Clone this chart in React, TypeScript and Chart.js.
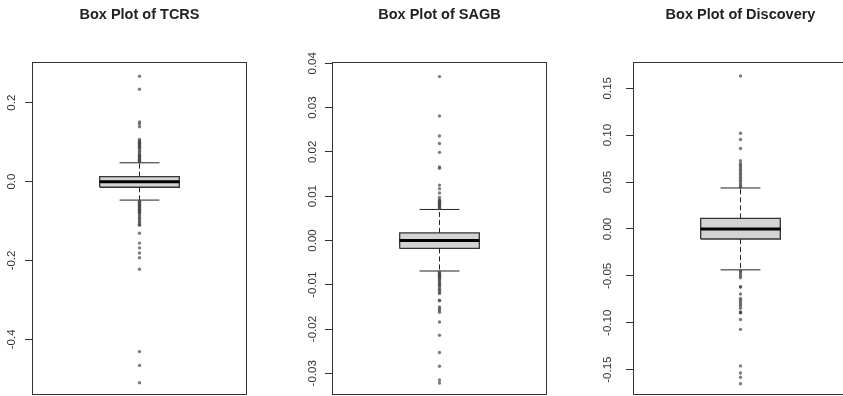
import React, { useEffect, useRef } from 'react';
import { Chart, registerables } from 'chart.js';
Chart.register(...registerables);

// ---------- data ----------
const panelTitles = ['Box Plot of TCRS', 'Box Plot of SAGB', 'Box Plot of Discovery'];

// [lower whisker, Q1, median, Q3, upper whisker]
const tcrsStats = [-0.047, -0.0145, -0.0005, 0.0125, 0.0475];
const tcrsOutliers = [
  0.05, 0.052, 0.054, 0.056, 0.058, 0.06, 0.062, 0.064, 0.066, 0.069, 0.073, 0.077, 0.081,
  0.085, 0.087, 0.089, 0.091, 0.093, 0.095, 0.097, 0.099, 0.101, 0.103, 0.107, 0.139, 0.146,
  0.151, 0.234, 0.267,
  -0.05, -0.052, -0.054, -0.056, -0.058, -0.06, -0.062, -0.064, -0.066, -0.068, -0.07, -0.072,
  -0.074, -0.076, -0.078, -0.081, -0.085, -0.089, -0.093, -0.097, -0.101, -0.105, -0.109,
  -0.111, -0.131, -0.156, -0.168, -0.181, -0.193, -0.222, -0.431, -0.466, -0.51,
];
const tcrsTicks = [-0.4, -0.2, 0, 0.2];
const tcrsRange = [-0.541, 0.303];

const sagbStats = [-0.0069, -0.0018, 0.0, 0.0017, 0.007];
const sagbOutliers = [
  0.0072, 0.0074, 0.0076, 0.0078, 0.008, 0.0082, 0.0084, 0.0086, 0.0088, 0.009, 0.0092, 0.0097,
  0.0107, 0.0117, 0.0125, 0.0163, 0.0166, 0.0199, 0.0219, 0.0236, 0.0281, 0.037,
  -0.0071, -0.0073, -0.0075, -0.0077, -0.0079, -0.0081, -0.0083, -0.0085, -0.0088, -0.0091,
  -0.0094, -0.0097, -0.01, -0.0102, -0.0106, -0.011, -0.0113, -0.0117, -0.012, -0.0135,
  -0.0136, -0.015, -0.0154, -0.0158, -0.0162, -0.0184, -0.0214, -0.0253, -0.0284, -0.0315,
  -0.0322,
];
const sagbTicks = [-0.03, -0.02, -0.01, 0, 0.01, 0.02, 0.03, 0.04];
const sagbRange = [-0.0349, 0.0403];

const discStats = [-0.0436, -0.0107, 0.0, 0.0114, 0.0437];
const discOutliers = [
  0.0445, 0.046, 0.048, 0.05, 0.052, 0.054, 0.056, 0.058, 0.06, 0.062, 0.064, 0.066, 0.068,
  0.0698, 0.0727, 0.0858, 0.0954, 0.102, 0.163,
  -0.0445, -0.046, -0.048, -0.05, -0.052, -0.0616, -0.0618, -0.0694, -0.074, -0.076, -0.078,
  -0.08, -0.082, -0.0845, -0.0885, -0.089, -0.0895, -0.0965, -0.107, -0.146, -0.1535, -0.158,
  -0.165,
];
const discTicks = [-0.15, -0.1, -0.05, 0, 0.05, 0.1, 0.15];
const discRange = [-0.177, 0.178];

// ---------- layout / style ----------
const FONT = '"Liberation Sans", Arial, sans-serif';
const CANVAS_W = 279;
const CANVAS_H = 396;
const AXIS_W = 32;
const BOX_HALF = 0.2;
const STAPLE_HALF = 0.1;

type PanelCfg = {
  title: string;
  stats: number[];
  outliers: number[];
  ticks: number[];
  range: number[];
  decimals: number;
  left: number;
  gap: number;
};

const panels: PanelCfg[] = [
  { title: panelTitles[0], stats: tcrsStats, outliers: tcrsOutliers, ticks: tcrsTicks, range: tcrsRange, decimals: 1, left: 0, gap: 20 },
  { title: panelTitles[1], stats: sagbStats, outliers: sagbOutliers, ticks: sagbTicks, range: sagbRange, decimals: 2, left: 300, gap: 19 },
  { title: panelTitles[2], stats: discStats, outliers: discOutliers, ticks: discTicks, range: discRange, decimals: 2, left: 601, gap: 25 },
];

function Panel({ cfg }: { cfg: PanelCfg }) {
  const ref = useRef<HTMLCanvasElement | null>(null);
  useEffect(() => {
    if (!ref.current) return;
    const [lw, q1, med, q3, uw] = cfg.stats;
    const c = 1;

    const framePlugin = {
      id: 'frame',
      afterDatasetsDraw(chart: any) {
        const a = chart.chartArea;
        const ctx = chart.ctx;
        ctx.save();
        ctx.strokeStyle = '#333';
        ctx.lineWidth = 1;
        ctx.strokeRect(Math.round(a.left) + 0.5, Math.round(a.top) + 0.5, Math.round(a.right - a.left) - 1, Math.round(a.bottom - a.top) - 1);
        ctx.restore();
      },
    };
    const labelPlugin = {
      id: 'rotLabels',
      afterDraw(chart: any) {
        const s = chart.scales.y;
        const a = chart.chartArea;
        const ctx = chart.ctx;
        ctx.save();
        ctx.fillStyle = '#333';
        ctx.font = `11.5px ${FONT}`;
        ctx.textAlign = 'center';
        ctx.textBaseline = 'middle';
        s.ticks.forEach((t: any) => {
          const py = s.getPixelForValue(t.value);
          ctx.save();
          ctx.translate(a.left - cfg.gap, py);
          ctx.rotate(-Math.PI / 2);
          ctx.fillText(Number(t.value).toFixed(cfg.decimals), 0, 0);
          ctx.restore();
        });
        ctx.restore();
      },
    };

    const line = (pts: { x: number; y: number }[], extra: any) => ({
      data: pts,
      pointRadius: 0,
      pointHoverRadius: 0,
      borderWidth: 1,
      borderColor: '#222',
      fill: false,
      tension: 0,
      ...extra,
    });

    const chart = new Chart(ref.current, {
      type: 'line',
      data: {
        datasets: [
          {
            data: cfg.outliers.map((v) => ({ x: c, y: v })),
            showLine: false,
            pointRadius: 1.7,
            pointBorderWidth: 0,
            pointBackgroundColor: 'rgba(70,70,70,0.7)',
            borderColor: 'rgba(70,70,70,0.7)',
            order: 0,
          } as any,
          line([{ x: c - BOX_HALF, y: med }, { x: c + BOX_HALF, y: med }], { borderWidth: 3, borderColor: '#000', order: 1 }),
          line([{ x: c - STAPLE_HALF, y: uw }, { x: c + STAPLE_HALF, y: uw }], { order: 2 }),
          line([{ x: c - STAPLE_HALF, y: lw }, { x: c + STAPLE_HALF, y: lw }], { order: 2 }),
          line([{ x: c, y: q3 }, { x: c, y: uw }], { borderDash: [5, 3], order: 3 }),
          line([{ x: c, y: q1 }, { x: c, y: lw }], { borderDash: [5, 3], order: 3 }),
          line(
            [
              { x: c - BOX_HALF, y: q1 },
              { x: c + BOX_HALF, y: q1 },
              { x: c + BOX_HALF, y: q3 },
              { x: c - BOX_HALF, y: q3 },
              { x: c - BOX_HALF, y: q1 },
            ],
            { fill: 'shape', backgroundColor: '#d3d3d3', borderColor: '#333', borderWidth: 1.3, order: 5 }
          ),
        ],
      },
      options: {
        animation: false,
        responsive: false,
        maintainAspectRatio: false,
        layout: { autoPadding: false, padding: { top: 0, bottom: 1, left: 0, right: 0 } },
        plugins: {
          legend: { display: false },
          tooltip: { enabled: false },
          title: {
            display: true,
            text: cfg.title,
            color: '#222',
            font: { family: FONT, size: 14.5, weight: 'bold' },
            padding: { top: 6.3, bottom: 38.3 },
          },
        },
        scales: {
          x: { type: 'linear', min: 0.46, max: 1.54, display: false },
          y: {
            type: 'linear',
            position: 'left',
            min: cfg.range[0],
            max: cfg.range[1],
            afterFit: (s: any) => { s.width = AXIS_W; },
            afterBuildTicks: (s: any) => { s.ticks = cfg.ticks.map((v) => ({ value: v })); },
            ticks: { display: false },
            grid: { drawOnChartArea: false, drawTicks: true, tickLength: 7, color: '#333' },
            border: { display: false },
          },
          y2: {
            type: 'linear',
            position: 'right',
            min: cfg.range[0],
            max: cfg.range[1],
            afterFit: (s: any) => { s.width = AXIS_W; },
            ticks: { display: false },
            grid: { display: false },
            border: { display: false },
          },
        },
      } as any,
      plugins: [framePlugin, labelPlugin],
    });
    return () => chart.destroy();
  }, [cfg]);

  return (
    <canvas
      ref={ref}
      width={CANVAS_W}
      height={CANVAS_H}
      style={{ position: 'absolute', left: cfg.left, top: 0, width: CANVAS_W, height: CANVAS_H }}
    />
  );
}

export default function App() {
  return (
    <div
      style={{
        position: 'fixed',
        left: 0,
        top: 0,
        width: 843,
        height: 396,
        overflow: 'hidden',
        background: '#fff',
      }}
    >
      {panels.map((p, i) => (
        <Panel key={i} cfg={p} />
      ))}
    </div>
  );
}
